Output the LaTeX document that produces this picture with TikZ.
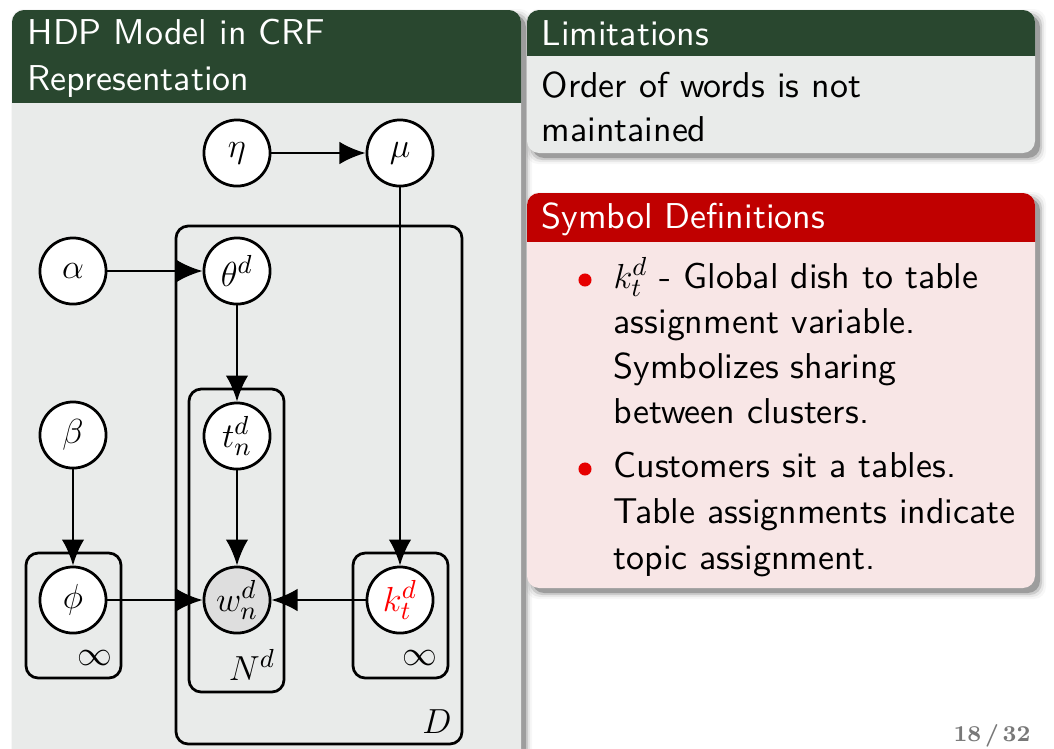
\documentclass[tikz,border=0pt]{standalone}
\usepackage{fontspec}
\setsansfont{lmsans10-regular.otf}[BoldFont=lmsans10-bold.otf]
\usetikzlibrary{arrows.meta}
\definecolor{titlegreen}{RGB}{41,71,47}
\definecolor{bodygrey}{RGB}{233,235,234}
\definecolor{titlered}{RGB}{192,0,0}
\definecolor{bodypink}{RGB}{248,230,230}
\definecolor{bulletred}{RGB}{230,0,0}
\definecolor{pagegrey}{RGB}{120,120,120}
\definecolor{wgrey}{RGB}{222,222,222}
\newcommand{\blockshadow}[4]{%
  \foreach \d/\o in {0/0.22,2/0.12,4/0.06,6/0.03}{%
    \fill[black,opacity=\o,rounded corners=4.2pt] (#1+5-\d,#2+5-\d) rectangle (#3+5+\d,#4+5+\d);}}
\newcommand{\beamerblock}[6]{% x1 y1 x2 y2 titlebottom bodycolor
  \fill[#6,rounded corners=4.2pt] (#1,#2) rectangle (#3,#4);
  \begin{scope}\clip (#1,#2) rectangle (#3,#5);
  \fill[titlecol,rounded corners=4.2pt] (#1,#2) rectangle (#3,#4);
  \end{scope}}
\begin{document}
\begin{tikzpicture}[x=0.345pt,y=-0.345pt,
  txt/.style={anchor=base west,inner sep=0pt,font=\fontsize{12.4}{15}\selectfont\sffamily},
  gnode/.style={circle,draw,line width=0.95pt,fill=white,minimum size=22.8pt,inner sep=0pt,font=\fontsize{12.2}{15}\selectfont},
  plate/.style={draw,line width=0.95pt,rounded corners=4.2pt},
  lbl/.style={inner sep=0pt,font=\fontsize{12.2}{15}\selectfont},
  arr/.style={line width=0.95pt,-{Latex[length=9pt,width=7.8pt]}},
  dot/.style={circle,fill=bulletred,minimum size=4.5pt,inner sep=0pt}]
\clip (0,0) rectangle (1054,748);
\fill[white] (0,0) rectangle (1054,748);
% left block
\blockshadow{12}{10}{521}{780}
\colorlet{titlecol}{titlegreen}
\beamerblock{12}{10}{521}{780}{102}{bodygrey}
% right blocks
\blockshadow{527}{10}{1035}{153}
\beamerblock{527}{10}{1035}{153}{55}{bodygrey}
\blockshadow{527}{193}{1035}{588}
\colorlet{titlecol}{titlered}
\beamerblock{527}{193}{1035}{588}{241}{bodypink}
% titles
\node[txt,text=white] (t1) at (27,44) {HDP Model in CRF};
\node[txt,text=white] (t2) at (27,90) {Representation};
\node[txt,text=white] (t3) at (541,45) {Limitations};
\node[txt] (b1) at (541,97) {Order of words is not};
\node[txt] (b2) at (541,141) {maintained};
\node[txt,text=white] (t4) at (541,228) {Symbol Definitions};
\node[dot] (d1) at (585,280) {};
\node[dot] (d2) at (585,469) {};
\node[txt] (s1) at (613,288) {$k_t^d$ - Global dish to table};
\node[txt] (s2) at (613,333) {assignment variable.};
\node[txt] (s3) at (613,378) {Symbolizes sharing};
\node[txt] (s4) at (613,423) {between clusters.};
\node[txt] (s5) at (613,477) {Customers sit a tables.};
\node[txt] (s6) at (613,523) {Table assignments indicate};
\node[txt] (s7) at (613,569) {topic assignment.};
\node[anchor=base east,inner sep=0pt,text=pagegrey,font=\fontsize{7.8}{9}\selectfont\rmfamily\bfseries] (pg) at (1031,741) {18\,/\,32};
% plates
\draw[plate] (176,226) rectangle (462,744);
\draw[plate] (189,389) rectangle (284,692);
\draw[plate] (26,553) rectangle (121,678);
\draw[plate] (353,553) rectangle (448,678);
\node[lbl] (Dl) at (437,722) {$D$};
\node[lbl] (Nl) at (252,665) {$N^d$};
\node[lbl] (inf1) at (95,658) {$\infty$};
\node[lbl] (inf2) at (420,658) {$\infty$};
% nodes
\node[gnode] (eta) at (237,153) {$\eta$};
\node[gnode] (mu) at (400,153) {$\mu$};
\node[gnode] (alpha) at (73,271) {$\alpha$};
\node[gnode] (theta) at (237,271) {$\theta^d$};
\node[gnode] (beta) at (73,435) {$\beta$};
\node[gnode] (t) at (237,436) {$t_n^d$};
\node[gnode] (phi) at (73,600) {$\phi$};
\node[gnode,fill=wgrey] (w) at (237,600) {$w_n^d$};
\node[gnode,text=red] (k) at (400,600) {$k_t^d$};
% edges
\draw[arr] (eta) -- (mu);
\draw[arr] (alpha) -- (theta);
\draw[arr] (theta) -- (t);
\draw[arr] (t) -- (w);
\draw[arr] (beta) -- (phi);
\draw[arr] (phi) -- (w);
\draw[arr] (k) -- (w);
\draw[arr] (mu) -- (k);
\end{tikzpicture}
\end{document}
